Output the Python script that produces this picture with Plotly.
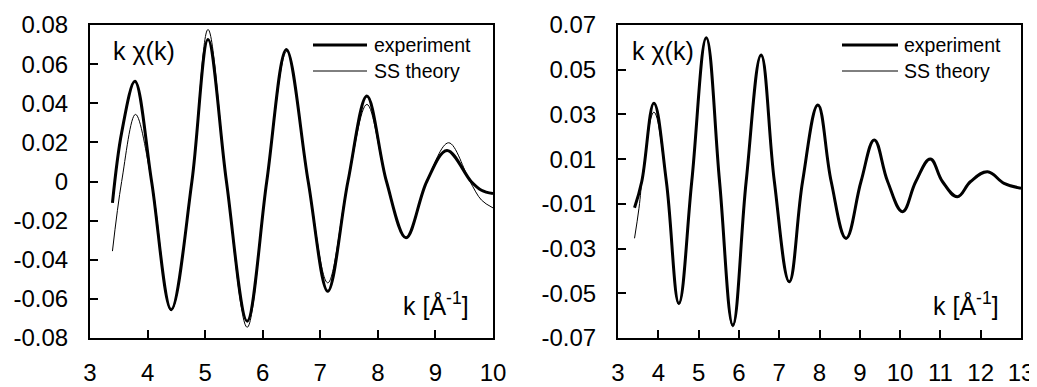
import plotly.graph_objects as go

# ---------------- data ----------------
# left panel
k_left_exp = [3.39, 3.55, 3.78, 4.07, 4.41, 4.77, 5.05, 5.37, 5.73, 6.07, 6.41,
              6.79, 7.13, 7.48, 7.81, 8.15, 8.49, 8.85, 9.20, 9.62, 9.80, 10.0]
chi_left_exp = [-0.0109, 0.025, 0.0513, 0.0, -0.0655, 0.0, 0.0726, 0.0, -0.0714, 0.0, 0.0675,
                0.0, -0.0561, 0.0, 0.0437, 0.0, -0.0288, 0.0, 0.0159, 0.0, -0.0045, -0.0062]

k_left_th = [3.39, 3.55, 3.79, 4.07, 4.41, 4.77, 5.05, 5.37, 5.73, 6.07, 6.42,
             6.79, 7.13, 7.48, 7.81, 8.15, 8.49, 8.85, 9.23, 9.60, 9.80, 10.0]
chi_left_th = [-0.0356, 0.0, 0.0343, 0.0, -0.0660, 0.0, 0.0777, 0.0, -0.0745, 0.0, 0.0665,
               0.0, -0.0518, 0.0, 0.0394, 0.0, -0.0290, 0.0, 0.0198, 0.0, -0.0095, -0.0135]

# right panel
k_right_exp = [3.41, 3.59, 3.89, 4.20, 4.51, 4.83, 5.19, 5.52, 5.85, 6.18, 6.55, 6.88,
               7.25, 7.58, 7.96, 8.29, 8.66, 9.03, 9.36, 9.69, 10.06, 10.39, 10.75,
               11.05, 11.42, 11.75, 12.17, 12.58, 13.0]
chi_right_exp = [-0.0117, 0.0, 0.0350, 0.0, -0.0545, 0.0, 0.0643, 0.0, -0.0642, 0.0, 0.0566, 0.0,
                 -0.0448, 0.0, 0.0342, 0.0, -0.0254, 0.0, 0.0186, 0.0, -0.0135, 0.0, 0.0101,
                 0.0, -0.0068, 0.0, 0.0044, -0.0008, -0.0030]

k_right_th = [3.41, 3.52, 3.62, 3.89, 4.20, 4.51, 4.83, 5.19, 5.52, 5.85, 6.18, 6.55, 6.88,
              7.25, 7.58, 7.96, 8.29, 8.66, 9.03, 9.36, 9.69, 10.06, 10.39, 10.75,
              11.05, 11.42, 11.75, 12.17, 12.58, 13.0]
chi_right_th = [-0.0254, -0.012, 0.004, 0.0310, 0.0, -0.0550, 0.0, 0.0640, 0.0, -0.0650, 0.0, 0.0562, 0.0,
                -0.0452, 0.0, 0.0340, 0.0, -0.0258, 0.0, 0.0186, 0.0, -0.0135, 0.0, 0.0100,
                0.0, -0.0068, 0.0, 0.0044, -0.0008, -0.0030]

left_yticks = [-0.08, -0.06, -0.04, -0.02, 0, 0.02, 0.04, 0.06, 0.08]
left_yticktext = ["-0.08", "-0.06", "-0.04", "-0.02", "0", "0.02", "0.04", "0.06", "0.08"]
right_yticks = [-0.07, -0.05, -0.03, -0.01, 0.01, 0.03, 0.05, 0.07]
right_yticktext = ["-0.07", "-0.05", "-0.03", "-0.01", "0.01", "0.03", "0.05", "0.07"]
left_xticks = [3, 4, 5, 6, 7, 8, 9, 10]
right_xticks = [3, 4, 5, 6, 7, 8, 9, 10, 11, 12, 13]

series_names = ["experiment", "SS theory"]
ylabel_text = "k \u03c7(k)"
xlabel_text = "k [\u00c5<sup>-1</sup>]"

# ---------------- figure ----------------
# the page's body has an 8 px margin, so the figure is drawn 8 px smaller
OFF = 8
W, H = 1037 - OFF, 387 - OFF
FONT = "Liberation Sans, Arial, sans-serif"

fig = go.Figure()

def add_pair(kx, ky, tx, ty, xa, ya, sm):
    fig.add_trace(go.Scatter(x=kx, y=ky, mode="lines", name=series_names[0],
                             line=dict(color="black", width=3, shape="spline", smoothing=sm),
                             xaxis=xa, yaxis=ya, showlegend=False))
    fig.add_trace(go.Scatter(x=tx, y=ty, mode="lines", name=series_names[1],
                             line=dict(color="black", width=1, shape="spline", smoothing=sm),
                             xaxis=xa, yaxis=ya, showlegend=False))

add_pair(k_left_exp, chi_left_exp, k_left_th, chi_left_th, "x", "y", 1.0)
add_pair(k_right_exp, chi_right_exp, k_right_th, chi_right_th, "x2", "y2", 1.15)

def px_x(p):
    return (p - OFF) / W

def px_y(p):
    return 1 - (p - OFF) / H

ydom = [px_y(338), px_y(25)]
Lx = [px_x(90), px_x(493)]
Rx = [px_x(618), px_x(1021)]

axis_common = dict(showgrid=False, zeroline=False, showline=True, linecolor="black",
                   linewidth=2, mirror=True, ticks="inside", ticklen=8, tickwidth=2,
                   automargin=False,
                   tickcolor="black", tickfont=dict(family=FONT, size=24, color="black"))

fig.update_layout(
    width=W, height=H,
    margin=dict(l=0, r=0, t=0, b=0, pad=0, autoexpand=False),
    paper_bgcolor="white", plot_bgcolor="white",
    font=dict(family=FONT, color="black"),
    xaxis=dict(domain=Lx, range=[3, 10], tickvals=left_xticks, anchor="y",
               ticklabelstandoff=12, **axis_common),
    yaxis=dict(domain=ydom, range=[-0.08, 0.08], tickvals=left_yticks,
               ticktext=left_yticktext, anchor="x", ticklabelstandoff=15, **axis_common),
    xaxis2=dict(domain=Rx, range=[3, 13], tickvals=right_xticks, anchor="y2",
                ticklabelstandoff=12, **axis_common),
    yaxis2=dict(domain=ydom, range=[-0.07, 0.07], tickvals=right_yticks,
                ticktext=right_yticktext, anchor="x2", ticklabelstandoff=15, **axis_common),
)

ann = []
shapes = []

for (ylab_x, xlab_x, leg_x0, leg_x1, txt_x) in [(111, 401, 313, 367, 372),
                                               (630, 931, 842, 898, 902)]:
    ann.append(dict(text=ylabel_text, x=px_x(ylab_x), y=px_y(51), xref="paper", yref="paper",
                    xanchor="left", yanchor="middle", showarrow=False,
                    font=dict(family=FONT, size=25, color="black")))
    ann.append(dict(text=xlabel_text, x=px_x(xlab_x), y=px_y(304), xref="paper", yref="paper",
                    xanchor="left", yanchor="middle", showarrow=False,
                    font=dict(family=FONT, size=25, color="black")))
    # legend
    for name, yy, w in [(series_names[0], 45, 3), (series_names[1], 71, 1)]:
        shapes.append(dict(type="line", xref="paper", yref="paper",
                           x0=px_x(leg_x0), x1=px_x(leg_x1), y0=px_y(yy), y1=px_y(yy),
                           line=dict(color="black", width=w)))
        ann.append(dict(text=name, x=px_x(txt_x), y=px_y(yy), xref="paper", yref="paper",
                        xanchor="left", yanchor="middle", showarrow=False,
                        font=dict(family=FONT, size=19.5, color="black")))

fig.update_layout(annotations=ann, shapes=shapes)

fig.write_html("out.html")
